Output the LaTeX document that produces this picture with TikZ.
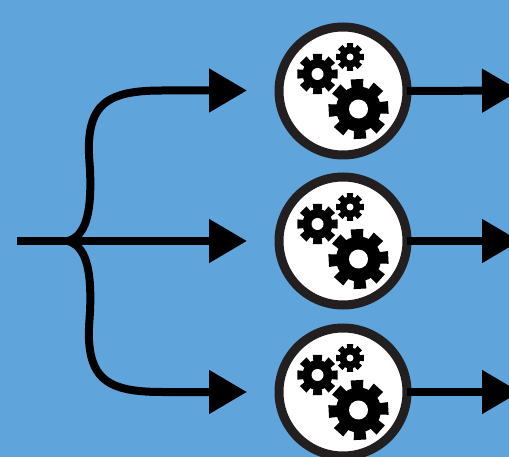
\documentclass[tikz,border=0pt]{standalone}
\usetikzlibrary{arrows.meta}
\definecolor{bgblue}{RGB}{95,165,220}
\definecolor{ringdark}{RGB}{35,31,32}
\tikzset{
  flow/.style={line width=8pt,draw=black,-{Triangle[length=38pt,width=42pt]}},
  unit/.style={circle,draw=ringdark,fill=white,line width=9pt,minimum size=128pt,inner sep=0pt,outer sep=0pt},
}
% centre x, centre y, outer radius, root radius, hole radius, rotation, half-angle at tip, half-angle at root
\newcommand{\mygear}[8]{%
  \begin{scope}[shift={(#1,#2)},rotate=#6]
    \fill[black] (0,0) circle[radius=#4];
    \foreach \k in {0,45,...,315}{
      \fill[black] (\k-#8:#4-1) -- (\k-#7:#3) -- (\k+#7:#3) -- (\k+#8:#4-1) -- cycle;
    }
    \fill[white] (0,0) circle[radius=#5];
  \end{scope}}
\newcommand{\gearset}[2]{%
  \mygear{#1+15.5}{#2+18}{30.5}{22.5}{9.5}{3}{12}{15.5}
  \mygear{#1-25.5}{#2-17}{20.7}{15}{6}{0}{13}{17}
  \mygear{#1+7}{#2-34}{14.2}{10.5}{3.5}{0}{13}{17}}
\begin{document}
\begin{tikzpicture}[x=1pt,y=-1pt]
  \useasboundingbox (0,0) rectangle (509,457);
  \clip (0,0) rectangle (509,457);
  \fill[bgblue] (0,0) rectangle (509,457);
  \coordinate (start) at (17,241);
  \coordinate (fork) at (68,241);
  \coordinate (t1) at (247,90.5);
  \coordinate (t2) at (247,241);
  \coordinate (t3) at (247,392);
  \coordinate (o1) at (520,90.5);
  \coordinate (o2) at (520,241);
  \coordinate (o3) at (520,392);
  \node[unit] (c1) at (343,91) {};
  \node[unit] (c2) at (343,241) {};
  \node[unit] (c3) at (343,392) {};
  \draw[flow] (start) -- (t2);
  \draw[flow] (fork) .. controls (85,236) and (92,215) .. (90,170)
     .. controls (89,155) and (88,145) .. (90,132)
     .. controls (95,100) and (116,90.5) .. (162,90.5) -- (t1);
  \draw[flow] (fork) .. controls (85,246) and (92,267) .. (90,312)
     .. controls (89,327) and (88,337) .. (90,350)
     .. controls (95,383) and (116,392) .. (162,392) -- (t3);
  \draw[flow] (c1.east) -- (o1);
  \draw[flow] (c2.east) -- (o2);
  \draw[flow] (c3.east) -- (o3);
  \gearset{343}{91}
  \gearset{343}{241}
  \gearset{343}{392}
\end{tikzpicture}
\end{document}
